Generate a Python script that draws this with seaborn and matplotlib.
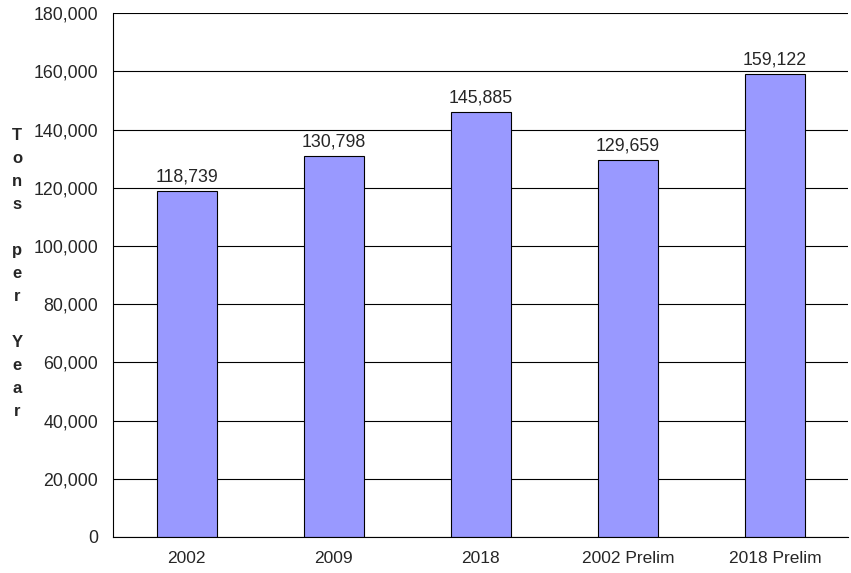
import matplotlib
matplotlib.use("Agg")
import matplotlib.pyplot as plt
import seaborn as sns
import pandas as pd
from matplotlib.ticker import FuncFormatter, MultipleLocator

categories = ["2002", "2009", "2018", "2002 Prelim", "2018 Prelim"]
tons = [118739, 130798, 145885, 129659, 159122]

df = pd.DataFrame({"scenario": categories, "tons": tons})

sns.set_style("white")
plt.rcParams["font.family"] = ["Liberation Sans", "DejaVu Sans"]

fig = plt.figure(figsize=(8.51, 5.73), dpi=100)
ax = fig.add_axes([0.133, 0.063, 0.864, 0.914])

sns.barplot(data=df, x="scenario", y="tons", color="#9999FF", saturation=1,
            edgecolor="black", linewidth=0.8, width=0.41, ax=ax)

ax.bar_label(ax.containers[0], labels=[f"{v:,}" for v in tons],
             padding=4, fontsize=12.8)

ax.set_ylim(0, 180000)
ax.set_xlim(-0.5, 4.5)
ax.yaxis.set_major_locator(MultipleLocator(20000))
ax.yaxis.set_major_formatter(FuncFormatter(lambda v, p: f"{int(v):,}"))
ax.grid(axis="y", color="black", linewidth=0.8)
ax.set_axisbelow(True)

# ticks between categories on the x axis
ax.set_xticks([i + 0.5 for i in range(-1, 5)], minor=True)
ax.tick_params(axis="x", which="minor", direction="out", length=5, color="black", width=0.8)
ax.tick_params(axis="x", which="major", length=0, labelsize=12.5, pad=10)
ax.tick_params(axis="y", direction="out", length=6, color="black", width=0.8,
               labelsize=12.8, pad=5)

for side in ["top", "right"]:
    ax.spines[side].set_visible(False)
for side in ["left", "bottom"]:
    ax.spines[side].set_color("black")
    ax.spines[side].set_linewidth(0.8)

ax.set_xlabel("")
ax.set_ylabel("")
fig.text(0.02, 0.523, "\n".join("Tons per Year"), ha="center", va="center",
         fontsize=12, fontweight="bold", linespacing=1.67)

fig.savefig("out.png", dpi=100)
